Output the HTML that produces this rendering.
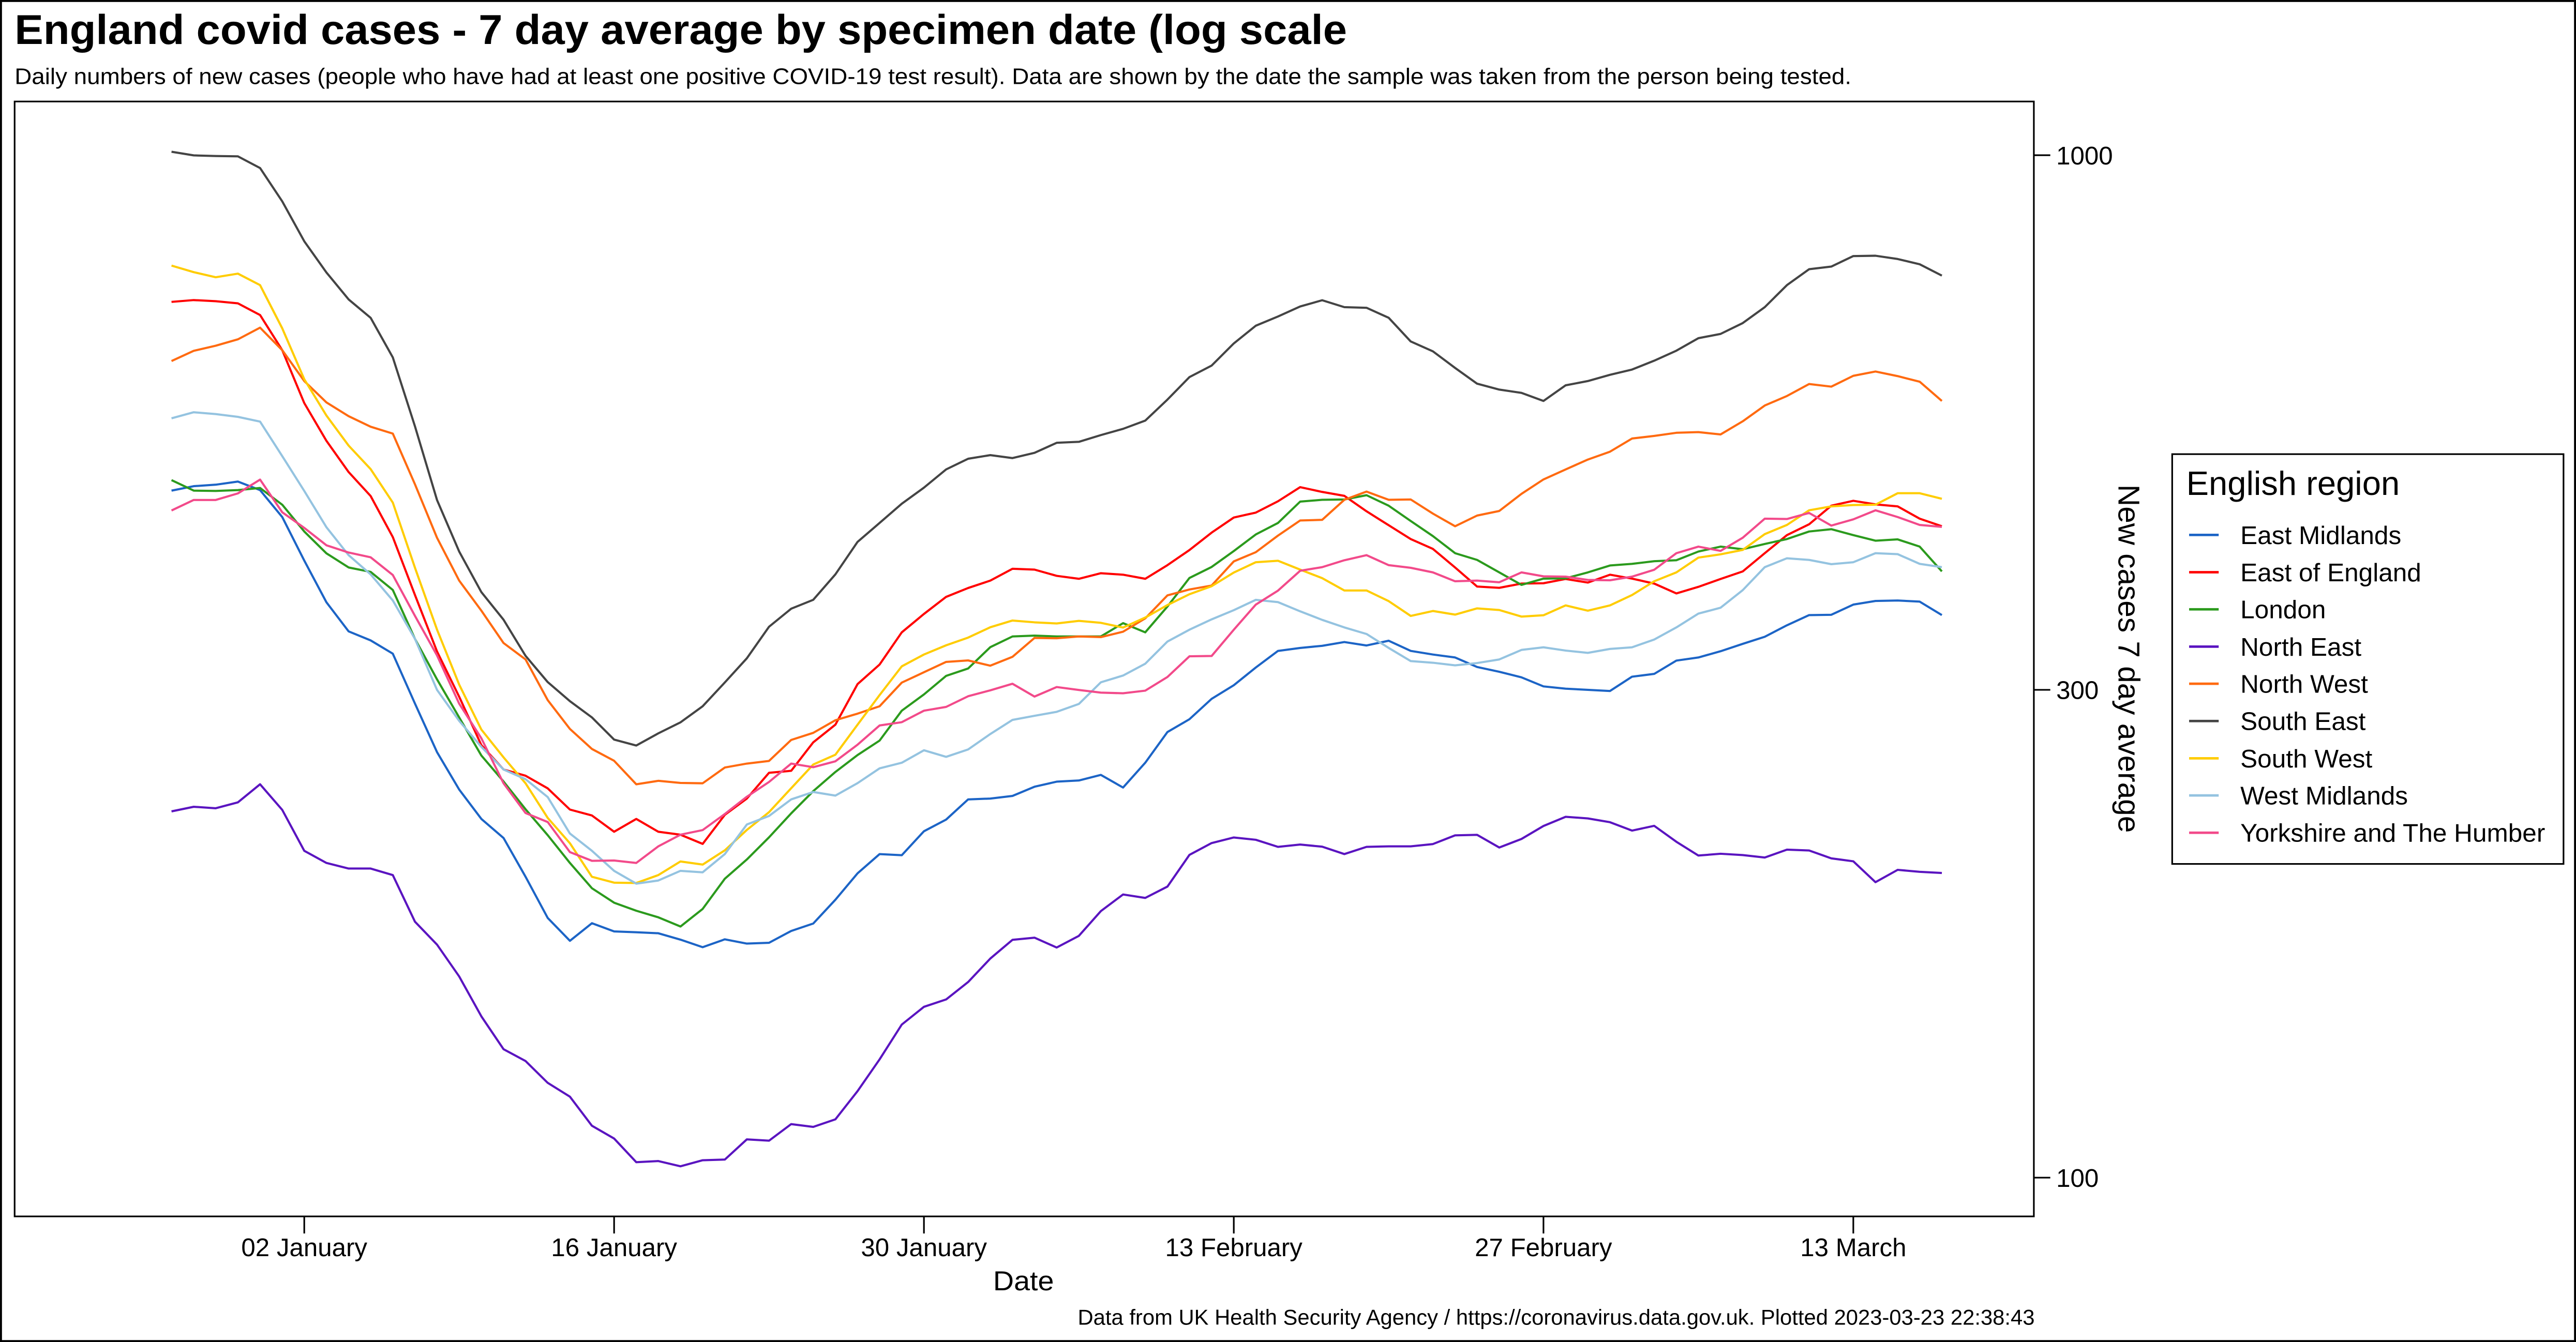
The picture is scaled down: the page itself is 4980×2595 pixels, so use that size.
<!DOCTYPE html>
<html>
<head>
<meta charset="utf-8">
<style>
html,body{margin:0;padding:0;background:#fff;overflow:hidden;}
svg{display:block;}
text{font-family:"Liberation Sans",Arial,sans-serif;fill:#000;}
</style>
</head>
<body>
<svg xmlns="http://www.w3.org/2000/svg" width="4980" height="2595" viewBox="0 0 1568 817.07" preserveAspectRatio="none">
<rect x="0" y="0" width="1568" height="817.07" fill="#fff"/>
<rect x="0.6" y="0.6" width="1566.8" height="815.9" fill="none" stroke="#000" stroke-width="1.2"/>

<text x="8.9" y="26.8" font-size="25.5" font-weight="bold" textLength="811" lengthAdjust="spacingAndGlyphs">England covid cases - 7 day average by specimen date (log scale</text>
<text x="8.9" y="51.1" font-size="13.6" textLength="1118" lengthAdjust="spacingAndGlyphs">Daily numbers of new cases (people who have had at least one positive COVID-19 test result). Data are shown by the date the sample was taken from the person being tested.</text>

<rect x="8.9" y="61.8" width="1229.1" height="678.8" fill="none" stroke="#000" stroke-width="1"/>

<g stroke="#000" stroke-width="1">
<line x1="185.2" y1="740.6" x2="185.2" y2="751"/>
<line x1="373.8" y1="740.6" x2="373.8" y2="751"/>
<line x1="562.4" y1="740.6" x2="562.4" y2="751"/>
<line x1="751.0" y1="740.6" x2="751.0" y2="751"/>
<line x1="939.5" y1="740.6" x2="939.5" y2="751"/>
<line x1="1128.1" y1="740.6" x2="1128.1" y2="751"/>
<line x1="1238" y1="94.5" x2="1248" y2="94.5"/>
<line x1="1238" y1="420.0" x2="1248" y2="420.0"/>
<line x1="1238" y1="717.0" x2="1248" y2="717.0"/>
</g>
<g font-size="15.5" text-anchor="middle">
<text x="185.2" y="764.8">02 January</text>
<text x="373.8" y="764.8">16 January</text>
<text x="562.4" y="764.8">30 January</text>
<text x="751.0" y="764.8">13 February</text>
<text x="939.5" y="764.8">27 February</text>
<text x="1128.1" y="764.8">13 March</text>
</g>
<g font-size="15.5">
<text x="1251.6" y="100.1">1000</text>
<text x="1251.6" y="425.6">300</text>
<text x="1251.6" y="722.6">100</text>
</g>
<text x="623" y="785.6" font-size="16.5" text-anchor="middle" textLength="37" lengthAdjust="spacingAndGlyphs">Date</text>
<text transform="translate(1289.5,401) rotate(90)" font-size="18.5" text-anchor="middle" textLength="212" lengthAdjust="spacingAndGlyphs">New cases 7 day average</text>
<text x="1238.5" y="806.6" font-size="13.1" text-anchor="end" textLength="582.5" lengthAdjust="spacingAndGlyphs">Data from UK Health Security Agency / https://coronavirus.data.gov.uk. Plotted 2023-03-23 22:38:43</text>

<g fill="none" stroke-width="1.3" stroke-linejoin="round">
<!-- East Midlands -->
<polyline stroke="#1c64c6" points="104.4,298.7 117.9,296.0 131.3,295.1 144.8,293.2 158.3,298.4 171.8,314.8 185.2,341.3 198.7,366.7 212.2,384.4 225.6,389.9 239.1,398.0 252.6,428.4 266.0,457.9 279.5,480.7 293.0,498.6 306.5,510.2 319.9,533.8 333.4,558.9 346.9,572.8 360.3,562.1 373.8,567.1 387.3,567.6 400.7,568.2 414.2,572.1 427.7,576.7 441.2,571.9 454.6,574.5 468.1,574.0 481.6,566.8 495.0,562.3 508.5,547.8 522.0,531.7 535.4,520.0 548.9,520.7 562.4,506.1 575.9,499.0 589.3,486.7 602.8,486.2 616.3,484.6 629.7,479.0 643.2,475.9 656.7,475.2 670.1,471.8 683.6,479.5 697.1,464.4 710.6,445.7 724.0,437.9 737.5,425.5 751.0,417.2 764.4,406.4 777.9,396.3 791.4,394.5 804.8,393.2 818.3,390.9 831.8,393.0 845.3,390.1 858.7,396.3 872.2,398.5 885.7,400.3 899.1,406.1 912.6,409.0 926.1,412.4 939.5,417.9 953.0,419.3 966.5,420.0 980.0,420.7 993.4,412.0 1006.9,410.3 1020.4,402.2 1033.8,400.3 1047.3,396.5 1060.8,392.0 1074.2,387.7 1087.7,380.7 1101.2,374.5 1114.7,374.3 1128.1,368.1 1141.6,365.9 1155.1,365.6 1168.5,366.3 1182.0,374.5"/>
<!-- East of England -->
<polyline stroke="#ff0000" points="104.4,183.8 117.9,182.7 131.3,183.4 144.8,184.7 158.3,191.8 171.8,213.2 185.2,245.4 198.7,268.4 212.2,287.4 225.6,302.0 239.1,327.0 252.6,362.3 266.0,396.6 279.5,424.2 293.0,453.7 306.5,468.5 319.9,472.3 333.4,480.0 346.9,492.9 360.3,496.5 373.8,506.4 387.3,498.6 400.7,506.4 414.2,508.2 427.7,513.8 441.2,496.1 454.6,486.2 468.1,470.5 481.6,469.3 495.0,452.0 508.5,441.2 522.0,416.5 535.4,404.6 548.9,385.0 562.4,373.8 575.9,363.4 589.3,358.0 602.8,353.5 616.3,346.3 629.7,346.8 643.2,350.6 656.7,352.4 670.1,349.0 683.6,349.9 697.1,352.4 710.6,344.1 724.0,334.9 737.5,324.3 751.0,315.1 764.4,312.1 777.9,305.2 791.4,296.6 804.8,299.5 818.3,301.9 831.8,311.3 845.3,319.8 858.7,328.2 872.2,334.2 885.7,345.5 899.1,357.1 912.6,357.9 926.1,355.3 939.5,355.1 953.0,352.5 966.5,354.7 980.0,349.9 993.4,352.3 1006.9,355.3 1020.4,361.3 1033.8,357.3 1047.3,352.5 1060.8,347.9 1074.2,336.8 1087.7,325.8 1101.2,319.2 1114.7,307.9 1128.1,304.9 1141.6,307.1 1155.1,308.3 1168.5,315.8 1182.0,320.4"/>
<!-- London -->
<polyline stroke="#2b9a1d" points="104.4,292.3 117.9,298.7 131.3,298.9 144.8,298.4 158.3,297.1 171.8,307.3 185.2,323.6 198.7,336.9 212.2,345.5 225.6,348.2 239.1,359.2 252.6,389.0 266.0,413.6 279.5,436.8 293.0,460.0 306.5,475.8 319.9,492.7 333.4,508.5 346.9,525.4 360.3,540.8 373.8,549.6 387.3,554.5 400.7,558.5 414.2,564.1 427.7,553.4 441.2,535.0 454.6,523.3 468.1,509.8 481.6,495.2 495.0,481.7 508.5,470.0 522.0,459.7 535.4,450.9 548.9,432.7 562.4,422.8 575.9,411.5 589.3,407.0 602.8,394.0 616.3,387.5 629.7,387.0 643.2,387.5 656.7,387.5 670.1,387.5 683.6,379.4 697.1,385.0 710.6,369.3 724.0,351.9 737.5,345.2 751.0,335.5 764.4,325.4 777.9,318.4 791.4,305.4 804.8,304.3 818.3,304.1 831.8,301.5 845.3,307.9 858.7,317.2 872.2,326.4 885.7,336.8 899.1,340.9 912.6,348.5 926.1,356.1 939.5,352.3 953.0,352.1 966.5,348.5 980.0,344.3 993.4,343.3 1006.9,341.7 1020.4,341.1 1033.8,335.8 1047.3,332.8 1060.8,334.4 1074.2,331.2 1087.7,328.2 1101.2,323.6 1114.7,322.2 1128.1,325.8 1141.6,329.2 1155.1,328.4 1168.5,332.8 1182.0,347.9"/>
<!-- North East -->
<polyline stroke="#5a14c0" points="104.4,494.0 117.9,491.2 131.3,492.1 144.8,488.5 158.3,477.5 171.8,493.1 185.2,518.0 198.7,525.4 212.2,528.8 225.6,528.8 239.1,532.8 252.6,561.2 266.0,575.1 279.5,594.5 293.0,618.8 306.5,638.8 319.9,646.0 333.4,659.3 346.9,667.7 360.3,685.4 373.8,693.2 387.3,707.6 400.7,706.9 414.2,710.1 427.7,706.4 441.2,706.0 454.6,693.7 468.1,694.5 481.6,684.4 495.0,686.1 508.5,681.5 522.0,664.3 535.4,645.0 548.9,623.8 562.4,613.0 575.9,608.5 589.3,597.9 602.8,583.6 616.3,572.2 629.7,570.9 643.2,576.9 656.7,569.8 670.1,554.7 683.6,544.6 697.1,546.7 710.6,539.8 724.0,520.5 737.5,513.3 751.0,509.9 764.4,511.3 777.9,515.6 791.4,514.2 804.8,515.5 818.3,520.0 831.8,515.6 845.3,515.3 858.7,515.3 872.2,513.9 885.7,508.6 899.1,508.3 912.6,516.0 926.1,510.8 939.5,502.9 953.0,497.3 966.5,498.3 980.0,500.6 993.4,505.7 1006.9,502.8 1020.4,512.5 1033.8,520.9 1047.3,519.8 1060.8,520.6 1074.2,522.1 1087.7,517.3 1101.2,517.8 1114.7,522.6 1128.1,524.4 1141.6,537.1 1155.1,529.6 1168.5,530.8 1182.0,531.5"/>
<!-- North West -->
<polyline stroke="#ff6a10" points="104.4,219.8 117.9,213.6 131.3,210.5 144.8,206.6 158.3,199.5 171.8,213.2 185.2,232.0 198.7,245.0 212.2,253.4 225.6,259.8 239.1,264.0 252.6,294.9 266.0,327.4 279.5,353.5 293.0,371.8 306.5,391.5 319.9,401.5 333.4,426.3 346.9,443.8 360.3,456.0 373.8,463.2 387.3,477.5 400.7,475.4 414.2,476.7 427.7,476.9 441.2,467.3 454.6,464.9 468.1,463.3 481.6,450.5 495.0,446.2 508.5,438.5 522.0,434.5 535.4,430.0 548.9,415.6 562.4,409.3 575.9,403.0 589.3,402.1 602.8,405.3 616.3,399.9 629.7,388.4 643.2,388.6 656.7,387.5 670.1,387.9 683.6,384.6 697.1,376.5 710.6,362.5 724.0,358.9 737.5,356.5 751.0,341.8 764.4,336.2 777.9,326.1 791.4,316.9 804.8,316.5 818.3,304.3 831.8,299.3 845.3,304.3 858.7,304.1 872.2,312.7 885.7,320.4 899.1,313.9 912.6,311.1 926.1,300.7 939.5,291.9 953.0,285.8 966.5,279.8 980.0,275.0 993.4,267.0 1006.9,265.4 1020.4,263.5 1033.8,263.1 1047.3,264.5 1060.8,256.5 1074.2,246.9 1087.7,241.1 1101.2,233.8 1114.7,235.4 1128.1,228.8 1141.6,226.2 1155.1,229.0 1168.5,232.4 1182.0,244.1"/>
<!-- South East -->
<polyline stroke="#444444" points="104.4,92.4 117.9,94.6 131.3,95.0 144.8,95.2 158.3,102.3 171.8,122.6 185.2,146.9 198.7,165.9 212.2,182.3 225.6,193.5 239.1,217.6 252.6,259.6 266.0,304.4 279.5,335.8 293.0,360.5 306.5,377.3 319.9,399.3 333.4,415.3 346.9,426.9 360.3,436.8 373.8,450.3 387.3,453.9 400.7,446.5 414.2,439.8 427.7,430.0 441.2,415.5 454.6,400.8 468.1,381.6 481.6,370.6 495.0,365.2 508.5,349.7 522.0,329.9 535.4,318.4 548.9,306.7 562.4,296.9 575.9,285.8 589.3,279.3 602.8,277.1 616.3,278.9 629.7,275.7 643.2,269.6 656.7,269.0 670.1,264.9 683.6,261.1 697.1,256.1 710.6,243.3 724.0,229.6 737.5,222.6 751.0,209.1 764.4,198.3 777.9,192.7 791.4,186.6 804.8,182.8 818.3,187.0 831.8,187.4 845.3,193.5 858.7,207.9 872.2,213.9 885.7,224.0 899.1,233.6 912.6,237.2 926.1,239.2 939.5,244.1 953.0,234.6 966.5,232.0 980.0,228.2 993.4,225.0 1006.9,219.6 1020.4,213.5 1033.8,205.9 1047.3,203.3 1060.8,196.7 1074.2,187.0 1087.7,173.6 1101.2,163.9 1114.7,162.3 1128.1,155.9 1141.6,155.7 1155.1,157.7 1168.5,160.9 1182.0,167.8"/>
<!-- South West -->
<polyline stroke="#ffcc00" points="104.4,161.7 117.9,165.7 131.3,168.8 144.8,166.6 158.3,173.6 171.8,199.9 185.2,230.9 198.7,253.0 212.2,271.3 225.6,285.6 239.1,306.0 252.6,345.7 266.0,383.3 279.5,416.8 293.0,444.2 306.5,461.1 319.9,476.9 333.4,498.0 346.9,513.4 360.3,533.8 373.8,537.4 387.3,537.6 400.7,532.8 414.2,524.5 427.7,526.4 441.2,517.7 454.6,505.3 468.1,494.5 481.6,479.9 495.0,465.5 508.5,459.5 522.0,441.2 535.4,423.2 548.9,405.7 562.4,398.5 575.9,392.9 589.3,388.2 602.8,381.9 616.3,377.8 629.7,378.9 643.2,379.6 656.7,378.0 670.1,379.2 683.6,382.1 697.1,376.0 710.6,368.4 724.0,361.8 737.5,356.9 751.0,348.6 764.4,342.3 777.9,341.4 791.4,346.8 804.8,352.0 818.3,359.5 831.8,359.5 845.3,366.0 858.7,375.0 872.2,372.0 885.7,374.2 899.1,370.4 912.6,371.4 926.1,375.4 939.5,374.6 953.0,368.6 966.5,371.8 980.0,368.6 993.4,362.3 1006.9,353.9 1020.4,348.5 1033.8,339.5 1047.3,337.5 1060.8,334.8 1074.2,325.2 1087.7,319.6 1101.2,310.7 1114.7,308.3 1128.1,307.5 1141.6,307.3 1155.1,300.3 1168.5,300.3 1182.0,303.7"/>
<!-- West Midlands -->
<polyline stroke="#94c3e0" points="104.4,254.7 117.9,251.0 131.3,252.1 144.8,253.8 158.3,256.7 171.8,277.7 185.2,298.9 198.7,321.0 212.2,338.0 225.6,349.7 239.1,365.6 252.6,389.0 266.0,420.0 279.5,438.9 293.0,454.7 306.5,468.5 319.9,474.4 333.4,485.3 346.9,507.5 360.3,518.0 373.8,530.2 387.3,538.0 400.7,536.1 414.2,530.2 427.7,531.1 441.2,520.0 454.6,502.0 468.1,496.8 481.6,486.7 495.0,482.2 508.5,484.4 522.0,476.8 535.4,467.8 548.9,464.4 562.4,456.8 575.9,460.8 589.3,456.3 602.8,446.9 616.3,438.3 629.7,435.8 643.2,433.4 656.7,428.6 670.1,415.4 683.6,411.3 697.1,404.1 710.6,390.6 724.0,383.4 737.5,377.1 751.0,371.5 764.4,365.2 777.9,366.6 791.4,372.2 804.8,377.4 818.3,382.0 831.8,386.0 845.3,394.5 858.7,402.5 872.2,403.5 885.7,405.1 899.1,403.7 912.6,401.5 926.1,395.7 939.5,394.1 953.0,396.1 966.5,397.5 980.0,395.1 993.4,394.1 1006.9,389.4 1020.4,382.0 1033.8,373.6 1047.3,370.0 1060.8,359.3 1074.2,345.3 1087.7,339.9 1101.2,340.9 1114.7,343.5 1128.1,342.3 1141.6,336.8 1155.1,337.4 1168.5,343.3 1182.0,345.3"/>
<!-- Yorkshire and The Humber -->
<polyline stroke="#f24a8a" points="104.4,310.8 117.9,304.4 131.3,304.4 144.8,300.4 158.3,292.0 171.8,311.9 185.2,321.4 198.7,332.0 212.2,336.4 225.6,339.3 239.1,350.1 252.6,375.0 266.0,399.0 279.5,428.4 293.0,449.5 306.5,476.9 319.9,495.0 333.4,500.5 346.9,518.8 360.3,524.1 373.8,523.9 387.3,525.4 400.7,515.3 414.2,508.2 427.7,505.4 441.2,495.6 454.6,485.1 468.1,476.1 481.6,464.9 495.0,467.1 508.5,463.5 522.0,453.4 535.4,441.7 548.9,439.7 562.4,432.7 575.9,430.4 589.3,423.9 602.8,420.3 616.3,416.3 629.7,424.1 643.2,418.3 656.7,420.1 670.1,421.7 683.6,422.1 697.1,420.5 710.6,412.2 724.0,399.6 737.5,399.4 751.0,383.4 764.4,368.1 777.9,359.6 791.4,347.5 804.8,345.3 818.3,341.1 831.8,338.0 845.3,344.1 858.7,345.7 872.2,348.5 885.7,353.9 899.1,353.5 912.6,354.5 926.1,348.5 939.5,350.9 953.0,351.1 966.5,353.1 980.0,353.3 993.4,351.1 1006.9,346.9 1020.4,336.8 1033.8,332.8 1047.3,335.4 1060.8,327.4 1074.2,315.8 1087.7,316.0 1101.2,312.3 1114.7,320.0 1128.1,316.2 1141.6,310.7 1155.1,314.8 1168.5,319.6 1182.0,320.8"/>
</g>

<!-- Legend -->
<rect x="1322.2" y="276.5" width="238.2" height="249.5" fill="#fff" stroke="#000" stroke-width="1"/>
<text x="1330.8" y="301.4" font-size="20.5">English region</text>
<g stroke-width="1.5">
<line x1="1332.5" y1="325.7" x2="1350.5" y2="325.7" stroke="#1c64c6"/>
<line x1="1332.5" y1="348.4" x2="1350.5" y2="348.4" stroke="#ff0000"/>
<line x1="1332.5" y1="371.0" x2="1350.5" y2="371.0" stroke="#2b9a1d"/>
<line x1="1332.5" y1="393.7" x2="1350.5" y2="393.7" stroke="#5a14c0"/>
<line x1="1332.5" y1="416.3" x2="1350.5" y2="416.3" stroke="#ff6a10"/>
<line x1="1332.5" y1="439.0" x2="1350.5" y2="439.0" stroke="#444444"/>
<line x1="1332.5" y1="461.7" x2="1350.5" y2="461.7" stroke="#ffcc00"/>
<line x1="1332.5" y1="484.3" x2="1350.5" y2="484.3" stroke="#94c3e0"/>
<line x1="1332.5" y1="507.0" x2="1350.5" y2="507.0" stroke="#f24a8a"/>
</g>
<g font-size="15.6">
<text x="1363.7" y="331.2">East Midlands</text>
<text x="1363.7" y="353.9">East of England</text>
<text x="1363.7" y="376.5">London</text>
<text x="1363.7" y="399.2">North East</text>
<text x="1363.7" y="421.8">North West</text>
<text x="1363.7" y="444.5">South East</text>
<text x="1363.7" y="467.2">South West</text>
<text x="1363.7" y="489.8">West Midlands</text>
<text x="1363.7" y="512.5">Yorkshire and The Humber</text>
</g>
</svg>
</body>
</html>
